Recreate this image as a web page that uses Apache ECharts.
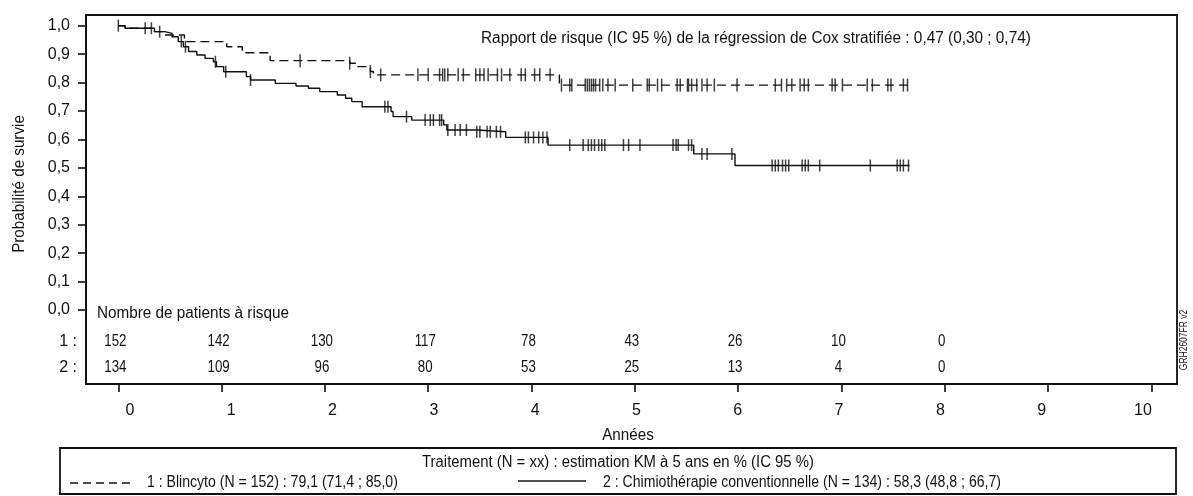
<!DOCTYPE html>
<html><head><meta charset="utf-8">
<script src="https://cdn.jsdelivr.net/npm/echarts@6/dist/echarts.min.js"></script>
<style>html,body{margin:0;padding:0;background:#fff}#c{width:1193px;height:496px}</style>
</head><body><div id="c"></div>
<script>
const FONT = "'Liberation Sans',Arial,sans-serif";
const xTicks = [0,1,2,3,4,5,6,7,8,9,10];
const yTicks = [0,0.1,0.2,0.3,0.4,0.5,0.6,0.7,0.8,0.9,1.0];

// Kaplan-Meier steps: survival value holds from each time onwards
const blinTimes = [0, 0.065, 0.35, 0.45, 0.64, 1.05, 1.20, 1.47, 2.24, 2.30, 2.44, 2.47, 4.27, 7.66];
const blinSurv  = [1.0, 0.991, 0.979, 0.967, 0.944, 0.926, 0.905, 0.877, 0.868, 0.856, 0.839, 0.827, 0.791, 0.791];
const chemoTimes = [0, 0.065, 0.35, 0.45, 0.52, 0.58, 0.63, 0.68, 0.76, 0.84, 0.92, 0.95, 1.02, 1.24, 1.28, 1.52, 1.72, 1.84, 1.95, 2.12, 2.20, 2.26, 2.36, 2.64, 2.66, 2.84, 3.15, 3.18, 3.47, 3.75, 4.16, 5.57, 5.97, 7.66];
const chemoSurv  = [1.0, 0.991, 0.979, 0.973, 0.961, 0.944, 0.926, 0.909, 0.897, 0.885, 0.873, 0.856, 0.838, 0.821, 0.809, 0.797, 0.788, 0.780, 0.768, 0.756, 0.745, 0.733, 0.715, 0.698, 0.680, 0.668, 0.651, 0.633, 0.627, 0.607, 0.580, 0.549, 0.508, 0.508];

// censoring times
const blinCensor = [1.76, 2.24, 2.44, 2.54, 2.90, 3.00, 3.11, 3.14, 3.16, 3.19, 3.29, 3.34, 3.46, 3.50, 3.54, 3.58, 3.67, 3.71, 3.79, 3.90, 3.94, 4.03, 4.08, 4.18, 4.29, 4.37, 4.39, 4.52, 4.54, 4.56, 4.58, 4.60, 4.62, 4.66, 4.69, 4.74, 4.81, 4.98, 5.12, 5.14, 5.22, 5.26, 5.41, 5.44, 5.51, 5.52, 5.55, 5.60, 5.65, 5.70, 5.77, 5.99, 6.36, 6.42, 6.47, 6.52, 6.60, 6.64, 6.68, 6.91, 6.94, 7.01, 7.25, 7.30, 7.45, 7.48, 7.60, 7.64];
const chemoCensor = [0, 0.26, 0.32, 0.40, 0.61, 0.65, 0.94, 1.04, 1.28, 2.58, 2.61, 2.79, 2.97, 3.02, 3.05, 3.11, 3.13, 3.19, 3.26, 3.31, 3.37, 3.47, 3.50, 3.57, 3.60, 3.66, 3.70, 3.94, 3.97, 4.02, 4.07, 4.11, 4.15, 4.37, 4.50, 4.55, 4.58, 4.61, 4.65, 4.68, 4.71, 4.89, 4.94, 5.05, 5.37, 5.40, 5.42, 5.52, 5.55, 5.65, 5.70, 5.94, 6.33, 6.36, 6.39, 6.43, 6.46, 6.49, 6.62, 6.65, 6.68, 6.79, 7.28, 7.54, 7.57, 7.60, 7.65];

// number at risk
const riskTimes = [0,1,2,3,4,5,6,7,8];
const riskBlin  = [152,142,130,117,78,43,26,10,0];
const riskChemo = [134,109,96,80,53,25,13,4,0];

const hrText = 'Rapport de risque (IC 95 %) de la régression de Cox stratifiée : 0,47 (0,30 ; 0,74)';
const legTitle = 'Traitement (N = xx) : estimation KM à 5 ans en % (IC 95 %)';
const leg1 = '1 : Blincyto (N = 152) : 79,1 (71,4 ; 85,0)';
const leg2 = '2 : Chimiothérapie conventionnelle (N = 134) : 58,3 (48,8 ; 66,7)';

function survAt(times, surv, t) {
  let s = surv[0];
  for (let i = 0; i < times.length; i++) if (times[i] <= t + 1e-9) s = surv[i];
  return s;
}
const zip = (a, b) => a.map((v, i) => [v, b[i]]);
const INK = '#111';
const ROW1 = -0.1126, ROW2 = -0.204;

function riskSeries(counts, rowY) {
  return {
    type: 'custom', silent: true, clip: false,
    data: riskTimes.map((t, i) => [t, rowY, counts[i]]),
    encode: {x: 0, y: 1},
    renderItem: (params, api) => {
      const p = api.coord([api.value(0), api.value(1)]);
      return {type: 'text', x: p[0] - 3, y: p[1], scaleX: 0.83,
        style: {text: String(api.value(2)), font: '16px ' + FONT, fill: INK, align: 'center', verticalAlign: 'middle'}};
    }
  };
}

function T(x, y, text, opts) {
  opts = opts || {};
  return {type: 'text', x, y, rotation: opts.rotation || 0, scaleX: opts.sx || 1,
    style: {text, font: (opts.size || 16) + 'px ' + FONT, fill: INK, align: opts.align || 'left', verticalAlign: 'middle'}};
}

const chart = echarts.init(document.getElementById('c'), null, {renderer: 'canvas'});
chart.setOption({
  animation: false,
  backgroundColor: '#fff',
  textStyle: {fontFamily: FONT},
  grid: {left: 86, top: 15, width: 1091, height: 369, show: true, borderColor: INK, borderWidth: 1.8, containLabel: false},
  xAxis: [{
    type: 'value', min: -0.313, max: 10.249,
    axisLine: {show: true, onZero: false, lineStyle: {color: INK, width: 1.8}},
    axisTick: {show: true, inside: false, length: 8, customValues: xTicks, lineStyle: {color: INK, width: 1.6}},
    axisLabel: {show: false},
    splitLine: {show: false}
  }, {
    // tick labels of the reference sit on a slightly tighter spacing than the ticks
    type: 'value', position: 'bottom', min: -0.434, max: 10.336,
    axisLine: {show: false}, axisTick: {show: false}, splitLine: {show: false},
    axisLabel: {customValues: xTicks, margin: 19, color: INK, fontSize: 16, fontFamily: FONT}
  }],
  yAxis: {
    type: 'value', min: -0.2603, max: 1.0376,
    axisLine: {show: true, onZero: false, lineStyle: {color: INK, width: 1.8}},
    axisTick: {show: true, length: 8, customValues: yTicks, lineStyle: {color: INK, width: 1.6}},
    axisLabel: {customValues: yTicks, margin: 16, color: INK, fontSize: 16, fontFamily: FONT,
      formatter: v => v.toFixed(1).replace('.', ',')},
    splitLine: {show: false}
  },
  series: [
    {type: 'line', step: 'end', data: zip(blinTimes, blinSurv), showSymbol: false, silent: true,
      lineStyle: {color: INK, width: 1.4, type: [9, 5]}},
    {type: 'line', step: 'end', data: zip(chemoTimes, chemoSurv), showSymbol: false, silent: true,
      lineStyle: {color: INK, width: 1.4}},
    {type: 'scatter', data: blinCensor.map(t => [t, survAt(blinTimes, blinSurv, t)]),
      symbol: 'rect', symbolSize: [1.5, 13], itemStyle: {color: INK}, silent: true},
    {type: 'scatter', data: chemoCensor.map(t => [t, survAt(chemoTimes, chemoSurv, t)]),
      symbol: 'rect', symbolSize: [1.5, 12], itemStyle: {color: INK}, silent: true},
    riskSeries(riskBlin, ROW1),
    riskSeries(riskChemo, ROW2)
  ],
  graphic: [
    T(481, 39, hrText, {sx: 0.96}),
    T(97, 314, 'Nombre de patients à risque', {sx: 0.955}),
    T(77, 342, '1 :', {align: 'right'}),
    T(77, 368, '2 :', {align: 'right'}),
    T(20, 184, 'Probabilité de survie', {rotation: Math.PI / 2, align: 'center', sx: 0.95}),
    T(1184, 340, 'GRH2607FR v2', {rotation: Math.PI / 2, align: 'center', size: 11, sx: 0.77}),
    T(628, 436, 'Années', {align: 'center', sx: 0.95}),
    {type: 'rect', shape: {x: 60, y: 448, width: 1116, height: 46}, style: {fill: 'none', stroke: INK, lineWidth: 1.8}},
    T(618, 463, legTitle, {align: 'center', sx: 0.93}),
    {type: 'line', shape: {x1: 70, y1: 483, x2: 134, y2: 483}, style: {stroke: INK, lineWidth: 1.5, lineDash: [8, 5]}},
    T(147, 483, leg1, {sx: 0.88}),
    {type: 'line', shape: {x1: 518, y1: 481, x2: 586, y2: 481}, style: {stroke: INK, lineWidth: 1.5}},
    T(603, 483, leg2, {sx: 0.88})
  ]
});
</script>
</body></html>
